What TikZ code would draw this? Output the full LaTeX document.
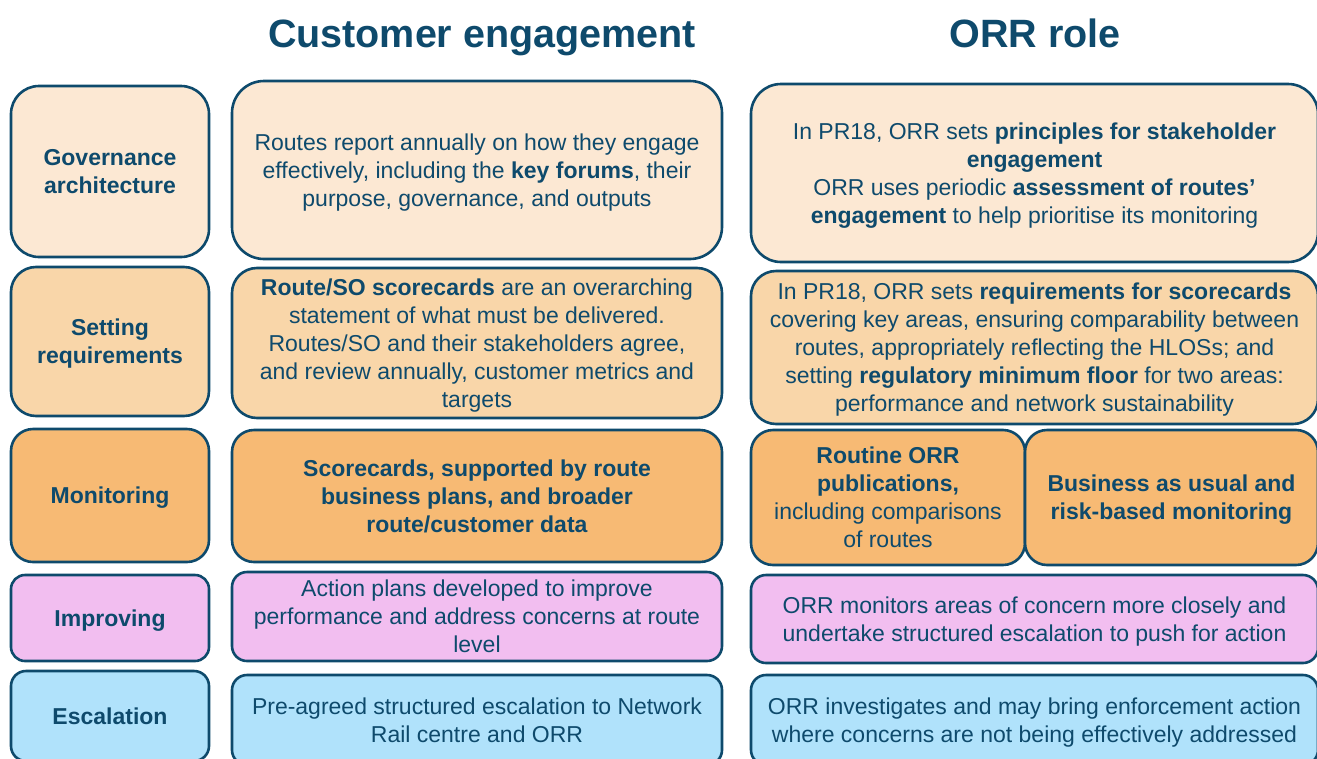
\documentclass[tikz,border=0pt]{standalone}
\usepackage{fontspec}
\setmainfont{Liberation Sans}
\definecolor{ink}{RGB}{14,74,108}
\definecolor{rowA}{RGB}{252,232,211}
\definecolor{rowB}{RGB}{249,214,169}
\definecolor{rowC}{RGB}{247,186,116}
\definecolor{rowD}{RGB}{242,190,240}
\definecolor{rowE}{RGB}{176,226,251}
\newcommand\bodyfs{\fontsize{23}{28}\selectfont}
\newcommand\headfs{\fontsize{39.5}{44}\selectfont\bfseries}
\tikzset{
  cell/.style={draw=ink, line width=2.6pt, text=ink, align=center, inner sep=0pt, font=\bodyfs, text depth=0pt},
  head/.style={text=ink, font=\headfs, inner sep=0pt, anchor=base},
  sz/.style 2 args={minimum width=#1pt, minimum height=#2pt},
}
\begin{document}
\begin{tikzpicture}[x=1pt, y=-1pt]
\useasboundingbox (0,0) rectangle (1317,758);
\clip (0,0) rectangle (1317,758);
\fill[white] (0,0) rectangle (1317,758);

% headers
\node[head] (h1) at (482,47.5) {Customer engagement};
\node[head] (h2) at (1035,47.5) {ORR role};

% left column
\node[cell, fill=rowA, sz={198}{171}, rounded corners=28pt] (L1) at (110,171.5) {\textbf{Governance}\\\textbf{architecture}};
\node[cell, fill=rowB, sz={198}{149}, rounded corners=25pt] (L2) at (110,341.5) {\textbf{Setting}\\\textbf{requirements}};
\node[cell, fill=rowC, sz={198}{133}, rounded corners=22pt] (L3) at (110,495.5) {\textbf{Monitoring}};
\node[cell, fill=rowD, sz={198}{86}, rounded corners=14pt] (L4) at (110,618) {\textbf{Improving}};
\node[cell, fill=rowE, sz={198}{90}, rounded corners=15pt] (L5) at (110,716) {\textbf{Escalation}};

% middle column
\node[cell, fill=rowA, sz={490}{178}, rounded corners=32pt] (M1) at (477,170) {Routes report annually on how they engage\\effectively, including the \textbf{key forums}, their\\purpose, governance, and outputs};
\node[cell, fill=rowB, sz={490}{150}, rounded corners=25pt] (M2) at (477,343) {\textbf{Route/SO scorecards} are an overarching\\statement of what must be delivered.\\Routes/SO and their stakeholders agree,\\and review annually, customer metrics and\\targets};
\node[cell, fill=rowC, sz={490}{132}, rounded corners=22pt] (M3) at (477,496) {\textbf{Scorecards, supported by route}\\\textbf{business plans, and broader}\\\textbf{route/customer data}};
\node[cell, fill=rowD, sz={490}{89}, rounded corners=15pt] (M4) at (477,616.5) {Action plans developed to improve\\performance and address concerns at route\\level};
\node[cell, fill=rowE, sz={490}{90}, rounded corners=15pt] (M5) at (477,720) {Pre-agreed structured escalation to Network\\Rail centre and ORR};

% right column
\node[cell, fill=rowA, sz={567}{178}, rounded corners=30pt] (R1) at (1034.5,173) {In PR18, ORR sets \textbf{principles for stakeholder}\\\textbf{engagement}\\ORR uses periodic \textbf{assessment of routes’}\\\textbf{engagement} to help prioritise its monitoring};
\node[cell, fill=rowB, sz={567}{153}, rounded corners=25pt] (R2) at (1034.5,347.5) {In PR18, ORR sets \textbf{requirements for scorecards}\\covering key areas, ensuring comparability between\\routes, appropriately reflecting the HLOSs; and\\setting \textbf{regulatory minimum floor} for two areas:\\performance and network sustainability};
\node[cell, fill=rowC, sz={274}{135}, rounded corners=22pt] (R3a) at (888,497.5) {\textbf{Routine ORR}\\\textbf{publications,}\\including comparisons\\of routes};
\node[cell, fill=rowC, sz={293}{135}, rounded corners=22pt] (R3b) at (1171.5,497.5) {\textbf{Business as usual and}\\\textbf{risk-based monitoring}};
\node[cell, fill=rowD, sz={567}{88}, rounded corners=15pt] (R4) at (1034.5,619) {ORR monitors areas of concern more closely and\\undertake structured escalation to push for action};
\node[cell, fill=rowE, sz={567}{90}, rounded corners=15pt] (R5) at (1034.5,720) {ORR investigates and may bring enforcement action\\where concerns are not being effectively addressed};
\end{tikzpicture}
\end{document}
